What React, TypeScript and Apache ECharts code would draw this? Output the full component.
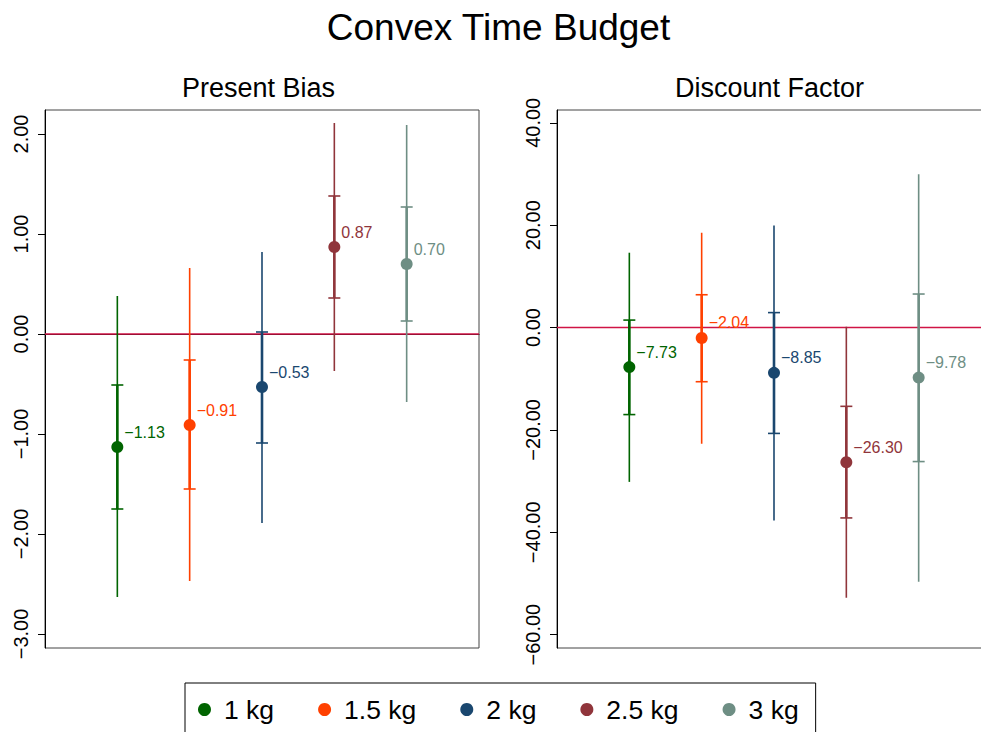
import React, { useEffect, useRef } from "react";
import * as echarts from "echarts";

const groups = ["1 kg", "1.5 kg", "2 kg", "2.5 kg", "3 kg"];
const colors = ["#006400", "#ff4000", "#1a476f", "#90353b", "#6e8e84"];
const xPos = [1, 2, 3, 4, 5];

// Present Bias
const pbEst = [-1.13, -0.91, -0.53, 0.87, 0.7];
const pbLo95 = [-2.63, -2.47, -1.89, -0.37, -0.68];
const pbHi95 = [0.38, 0.66, 0.82, 2.11, 2.09];
const pbLoIn = [-1.75, -1.55, -1.09, 0.36, 0.13];
const pbHiIn = [-0.51, -0.26, 0.02, 1.38, 1.27];
const pbTicks = [-3, -2, -1, 0, 1, 2];

// Discount Factor
const dfEst = [-7.73, -2.04, -8.85, -26.3, -9.78];
const dfLo95 = [-30.15, -22.7, -37.67, -52.79, -49.65];
const dfHi95 = [14.62, 18.52, 19.92, 0.14, 29.94];
const dfLoIn = [-17.0, -10.58, -20.68, -37.19, -26.18];
const dfHiIn = [1.46, 6.41, 2.92, -15.39, 6.55];
const dfTicks = [-60, -40, -20, 0, 20, 40];

const zeroLine = [0];

const FONT = "Liberation Sans, Arial, Helvetica, sans-serif";
const fmt = (v: number) => (v < 0 ? "\u2212" : "") + Math.abs(v).toFixed(2);

const renderBar = (params: any, api: any) => {
  const x = api.value(0);
  const lo = api.coord([x, api.value(1)]);
  const hi = api.coord([x, api.value(2)]);
  const ilo = api.coord([x, api.value(3)]);
  const ihi = api.coord([x, api.value(4)]);
  const color = api.visual("color");
  const w = 6;
  return {
    type: "group",
    children: [
      { type: "line", shape: { x1: lo[0], y1: lo[1], x2: hi[0], y2: hi[1] }, style: { stroke: color, lineWidth: 1.6 } },
      { type: "line", shape: { x1: ilo[0], y1: ilo[1], x2: ihi[0], y2: ihi[1] }, style: { stroke: color, lineWidth: 2.6 } },
      { type: "line", shape: { x1: ilo[0] - w, y1: ilo[1], x2: ilo[0] + w, y2: ilo[1] }, style: { stroke: color, lineWidth: 1.6 } },
      { type: "line", shape: { x1: ihi[0] - w, y1: ihi[1], x2: ihi[0] + w, y2: ihi[1] }, style: { stroke: color, lineWidth: 1.6 } },
    ],
  };
};

export default function App() {
  const ref = useRef<HTMLDivElement>(null);
  useEffect(() => {
    if (!ref.current) return;
    const chart = echarts.init(ref.current, null, { renderer: "svg" });

    const panels = [
      { est: pbEst, lo: pbLo95, hi: pbHi95, li: pbLoIn, hiIn: pbHiIn },
      { est: dfEst, lo: dfLo95, hi: dfHi95, li: dfLoIn, hiIn: dfHiIn },
    ];

    const series: any[] = [];
    panels.forEach((p, pi) => {
      series.push({
        type: "line",
        name: "zero" + pi,
        xAxisIndex: pi,
        yAxisIndex: pi,
        data: [
          [0, zeroLine[0]],
          [6, zeroLine[0]],
        ],
        symbol: "none",
        silent: true,
        z: 1,
        lineStyle: { color: "#d01446", width: 1.6 },
      });
      groups.forEach((g, gi) => {
        series.push({
          type: "custom",
          name: g,
          xAxisIndex: pi,
          yAxisIndex: pi,
          z: 2,
          itemStyle: { color: colors[gi] },
          renderItem: renderBar,
          data: [[xPos[gi], p.lo[gi], p.hi[gi], p.li[gi], p.hiIn[gi]]],
        });
        series.push({
          type: "scatter",
          name: g,
          xAxisIndex: pi,
          yAxisIndex: pi,
          z: 3,
          symbol: "circle",
          symbolSize: 12,
          itemStyle: { color: colors[gi], opacity: 1 },
          data: [[xPos[gi], p.est[gi]]],
          label: {
            show: true,
            position: "right",
            distance: 1,
            offset: [0, -15],
            formatter: (d: any) => fmt(d.value[1]),
            color: colors[gi],
            fontSize: 16,
            fontFamily: FONT,
          },
        });
      });
    });

    const yAxisCommon = (ticks: number[]) => ({
      type: "value",
      axisLine: { show: true, lineStyle: { color: "#000", width: 1 } },
      axisTick: { show: true, length: 7, lineStyle: { color: "#000" }, customValues: ticks },
      axisLabel: {
        rotate: 90,
        margin: 14,
        fontSize: 20,
        color: "#000",
        fontFamily: FONT,
        customValues: ticks,
        formatter: (v: number) => fmt(v),
      },
      splitLine: { show: false },
    });

    const xAxisCommon = {
      type: "value",
      min: 0,
      max: 6,
      axisLine: { show: true, lineStyle: { color: "#000", width: 1 } },
      axisTick: { show: false },
      axisLabel: { show: false },
      splitLine: { show: false },
    };

    const gridCommon = {
      top: 110,
      width: 434,
      height: 538,
      show: true,
      borderColor: "#444",
      borderWidth: 1,
      backgroundColor: "#fff",
      containLabel: false,
      outerBoundsMode: "none",
    };

    chart.setOption({
      animation: false,
      backgroundColor: "#fff",
      textStyle: { fontFamily: FONT },
      graphic: [
        {
          type: "text",
          x: 498.5,
          y: 27,
          style: { text: "Convex Time Budget", fontSize: 37, fontFamily: FONT, fill: "#000", textAlign: "center", textVerticalAlign: "middle" },
        },
        {
          type: "text",
          x: 258.5,
          y: 88,
          style: { text: "Present Bias", fontSize: 27, fontFamily: FONT, fill: "#000", textAlign: "center", textVerticalAlign: "middle" },
        },
        {
          type: "text",
          x: 769.5,
          y: 88,
          style: { text: "Discount Factor", fontSize: 27, fontFamily: FONT, fill: "#000", textAlign: "center", textVerticalAlign: "middle" },
        },
      ],
      grid: [
        { ...gridCommon, left: 45 },
        { ...gridCommon, left: 557 },
      ],
      xAxis: [
        { ...xAxisCommon, gridIndex: 0 },
        { ...xAxisCommon, gridIndex: 1 },
      ],
      yAxis: [
        { ...yAxisCommon(pbTicks), gridIndex: 0, min: -3.14, max: 2.24 },
        { ...yAxisCommon(dfTicks), gridIndex: 1, min: -62.6, max: 42.5 },
      ],
      legend: {
        left: 185,
        top: 683,
        orient: "horizontal",
        padding: [13, 17, 13, 13],
        borderColor: "#000",
        borderWidth: 1,
        itemGap: 44,
        itemWidth: 13,
        itemHeight: 13,
        selectedMode: false,
        textStyle: { fontSize: 26.5, color: "#000", fontFamily: FONT, padding: [0, 0, 0, 8] },
        data: groups.map((g, i) => ({ name: g, icon: "circle", itemStyle: { color: colors[i] } })),
      },
      series,
    });
    return () => chart.dispose();
  }, []);
  return <div ref={ref} style={{ position: "fixed", left: 0, top: 0, width: 981, height: 732 }} />;
}
